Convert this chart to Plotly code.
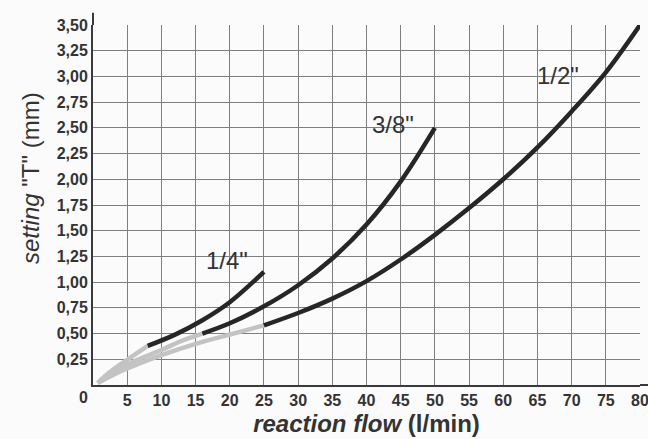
import plotly.graph_objects as go

# ---- data ----
x_q_black = [8, 12, 16, 20, 25]
y_q_black = [0.38, 0.49, 0.63, 0.805, 1.10]
x_q_gray = [0.7, 2, 4, 6, 8]
y_q_gray = [0.02, 0.10, 0.20, 0.29, 0.38]

x_e_black = [16, 20, 25, 30, 35, 40, 45, 50]
y_e_black = [0.50, 0.60, 0.765, 0.97, 1.23, 1.56, 1.98, 2.50]
x_e_gray = [0.7, 3, 6, 10, 13, 16]
y_e_gray = [0.02, 0.12, 0.23, 0.34, 0.43, 0.50]

x_h_black = [25, 30, 35, 40, 45, 50, 55, 60, 65, 70, 75, 80]
y_h_black = [0.58, 0.70, 0.84, 1.01, 1.22, 1.46, 1.72, 2.00, 2.31, 2.66, 3.04, 3.50]
x_h_gray = [0.7, 3, 5, 10, 15, 20, 25]
y_h_gray = [0.02, 0.10, 0.16, 0.29, 0.40, 0.49, 0.58]

curve_labels = ['1/4"', '3/8"', '1/2"']
label_x = [19.6, 43.9, 68.0]
label_y = [1.21, 2.53, 3.01]

x_ticks = [5, 10, 15, 20, 25, 30, 35, 40, 45, 50, 55, 60, 65, 70, 75, 80]
y_ticks = [0.25, 0.5, 0.75, 1.0, 1.25, 1.5, 1.75, 2.0, 2.25, 2.5, 2.75, 3.0, 3.25, 3.5]
y_ticktext = ["0,25", "0,50", "0,75", "1,00", "1,25", "1,50", "1,75", "2,00",
              "2,25", "2,50", "2,75", "3,00", "3,25", "3,50"]

FONT = "Liberation Sans Narrow, Arial Narrow, Liberation Sans, Arial, sans-serif"
BLACK = "#262626"
GRAY = "#c3c3c3"
TEXT = "#333333"
BG = "#fbfbfb"

fig = go.Figure()
for xs, ys in [(x_q_gray, y_q_gray), (x_e_gray, y_e_gray), (x_h_gray, y_h_gray)]:
    fig.add_trace(go.Scatter(x=xs, y=ys, mode="lines",
                             line=dict(color=GRAY, width=4.5, shape="spline", smoothing=1.0),
                             showlegend=False, hoverinfo="skip", cliponaxis=False))
for xs, ys in [(x_q_black, y_q_black), (x_e_black, y_e_black), (x_h_black, y_h_black)]:
    fig.add_trace(go.Scatter(x=xs, y=ys, mode="lines",
                             line=dict(color=BLACK, width=4.5, shape="spline", smoothing=1.0),
                             showlegend=False, hoverinfo="skip", cliponaxis=False))

for t, lx, ly in zip(curve_labels, label_x, label_y):
    fig.add_annotation(x=lx, y=ly, text=t, showarrow=False,
                       font=dict(family=FONT, size=24, color=TEXT))

# origin "0" label, offset left of the axis
fig.add_annotation(x=0, y=0, text="<b>0</b>", showarrow=False, xshift=-10, yshift=-12,
                   font=dict(family=FONT, size=16, color=TEXT))

# y-axis title (sits above the centre of the axis in the reference)
fig.add_annotation(xref="paper", yref="paper", x=-0.115, y=0.575, textangle=-90,
                   xanchor="center", yanchor="middle",
                   text='<i>setting</i> "T" (mm)', showarrow=False,
                   font=dict(family=FONT, size=24, color=TEXT))

# axis-line overhangs
fig.add_shape(type="line", xref="paper", yref="paper", x0=0, x1=0, y0=1, y1=1.034,
              line=dict(color="#3a3a3a", width=2))
fig.add_shape(type="line", xref="paper", yref="paper", x0=1, x1=1.016, y0=0, y1=0,
              line=dict(color="#3a3a3a", width=2))

fig.update_layout(
    width=648, height=439,
    margin=dict(l=93, r=8, t=25, b=54),
    paper_bgcolor=BG, plot_bgcolor=BG,
    font=dict(family=FONT, color=TEXT),
    xaxis=dict(range=[0, 80], tickvals=x_ticks, ticktext=[f"<b>{v}</b>" for v in x_ticks],
               showgrid=True, gridcolor="#7f7f7f", gridwidth=1.3,
               showline=True, linecolor="#3a3a3a", linewidth=2, zeroline=False,
               ticks="", ticklabeloverflow="allow", automargin=False,
               tickfont=dict(family=FONT, size=16, color=TEXT),
               title=dict(text="<b><i>reaction flow</i> (l/min)</b>", standoff=7,
                          font=dict(family=FONT, size=24, color=TEXT))),
    yaxis=dict(range=[0, 3.5], tickvals=y_ticks, ticktext=[f"<b>{t}</b>" for t in y_ticktext],
               showgrid=True, gridcolor="#7f7f7f", gridwidth=1.3,
               showline=True, linecolor="#3a3a3a", linewidth=2, zeroline=False,
               ticks="", ticklabeloverflow="allow", automargin=False,
               tickfont=dict(family=FONT, size=16, color=TEXT)),
)

fig.write_html("out.html", config={"displayModeBar": False},
               post_script="document.body.style.margin='0';")
